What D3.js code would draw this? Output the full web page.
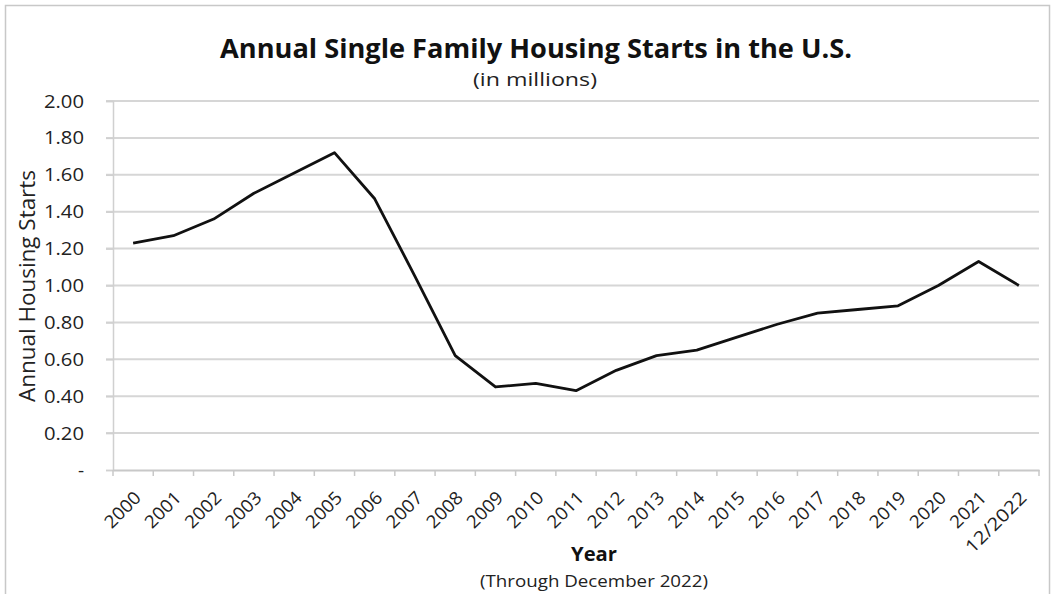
<!DOCTYPE html>
<html><head><meta charset="utf-8">
<script src="https://cdn.jsdelivr.net/npm/d3@7"></script>
<style>body{margin:0;background:#fff}svg{display:block}</style>
</head><body>
<svg id="c" width="1055" height="594"></svg>
<script>
const categories = ["2000","2001","2002","2003","2004","2005","2006","2007","2008","2009","2010","2011","2012","2013","2014","2015","2016","2017","2018","2019","2020","2021","12/2022"];
const starts = [1.23,1.27,1.36,1.50,1.61,1.72,1.47,1.05,0.62,0.45,0.47,0.43,0.54,0.62,0.65,0.72,0.79,0.85,0.87,0.89,1.00,1.13,1.00];
const yTicks = [0,0.2,0.4,0.6,0.8,1.0,1.2,1.4,1.6,1.8,2.0];

const svg = d3.select("#c");
const font = "Open Sans, Liberation Sans, sans-serif";
const L = 113, R = 1039, T = 101, B = 470;

svg.append("rect").attr("x",5.5).attr("y",5.5).attr("width",1044).attr("height",600)
  .attr("fill","#fff").attr("stroke","#c8c8c8").attr("stroke-width",1.5);

const x = d3.scaleBand().domain(categories).range([L,R]);
const y = d3.scaleLinear().domain([0,2]).range([B,T]);

// gridlines
svg.append("g").selectAll("line").data(yTicks.filter(d=>d>0)).join("line")
  .attr("x1",L-7).attr("x2",R).attr("y1",d=>y(d)).attr("y2",d=>y(d))
  .attr("stroke","#d6d6d6").attr("stroke-width",2);

// y axis
const ya = svg.append("g").attr("transform",`translate(${L},0)`)
  .call(d3.axisLeft(y).tickValues(yTicks).tickSize(7).tickPadding(22)
    .tickFormat(d=>d===0?"-":d3.format(".2f")(d)));
ya.select(".domain").attr("stroke","#d0d0d0").attr("stroke-width",1.5);
ya.selectAll(".tick line").attr("stroke","#d0d0d0").attr("stroke-width",1.5);
ya.selectAll(".tick text").attr("font-family",font).attr("font-size",19).attr("fill","#222")
  .attr("x",-29).attr("textLength",d=>d===0?null:40).attr("lengthAdjust","spacingAndGlyphs");

// x axis
const xa = svg.append("g").attr("transform",`translate(0,${B})`)
  .call(d3.axisBottom(x).tickSize(0).tickFormat(d=>d));
xa.select(".domain").attr("stroke","#c8c8c8").attr("stroke-width",2);
xa.selectAll(".tick line").remove();
svg.append("g").selectAll("line").data(categories.concat(["_end"])).join("line")
  .attr("x1",(d,i)=>L+i*x.bandwidth()).attr("x2",(d,i)=>L+i*x.bandwidth())
  .attr("y1",B).attr("y2",B+6).attr("stroke","#c8c8c8").attr("stroke-width",1.5);
xa.selectAll(".tick text")
  .attr("font-family",font).attr("font-size",18).attr("fill","#222")
  .attr("text-anchor","end").attr("dy",0).attr("y",0)
  .attr("textLength",d=>d.length>4?78:43).attr("lengthAdjust","spacingAndGlyphs")
  .attr("transform","translate(9,29) rotate(-45)");

// line
svg.append("path").datum(starts)
  .attr("fill","none").attr("stroke","#111").attr("stroke-width",2.8).attr("stroke-linejoin","round")
  .attr("d", d3.line().x((d,i)=>x(categories[i])+x.bandwidth()/2).y(d=>y(d)));

// titles
svg.append("text").attr("x",536).attr("y",58).attr("text-anchor","middle")
  .attr("font-family",font).attr("font-weight","bold").attr("font-size",27).attr("fill","#111")
  .attr("textLength",632).attr("lengthAdjust","spacingAndGlyphs")
  .text("Annual Single Family Housing Starts in the U.S.");
svg.append("text").attr("x",535).attr("y",86).attr("text-anchor","middle")
  .attr("font-family",font).attr("font-size",18).attr("fill","#222")
  .attr("textLength",124).attr("lengthAdjust","spacingAndGlyphs")
  .text("(in millions)");
svg.append("text").attr("transform","translate(35,286) rotate(-90)").attr("text-anchor","middle")
  .attr("font-family",font).attr("font-size",21).attr("fill","#222")
  .attr("textLength",232).attr("lengthAdjust","spacingAndGlyphs")
  .text("Annual Housing Starts");
svg.append("text").attr("x",594).attr("y",561).attr("text-anchor","middle")
  .attr("font-family",font).attr("font-weight","bold").attr("font-size",20).attr("fill","#111")
  .attr("textLength",46).attr("lengthAdjust","spacingAndGlyphs")
  .text("Year");
svg.append("text").attr("x",594).attr("y",587).attr("text-anchor","middle")
  .attr("font-family",font).attr("font-size",16).attr("fill","#222")
  .attr("textLength",228).attr("lengthAdjust","spacingAndGlyphs")
  .text("(Through December 2022)");
</script>
</body></html>
